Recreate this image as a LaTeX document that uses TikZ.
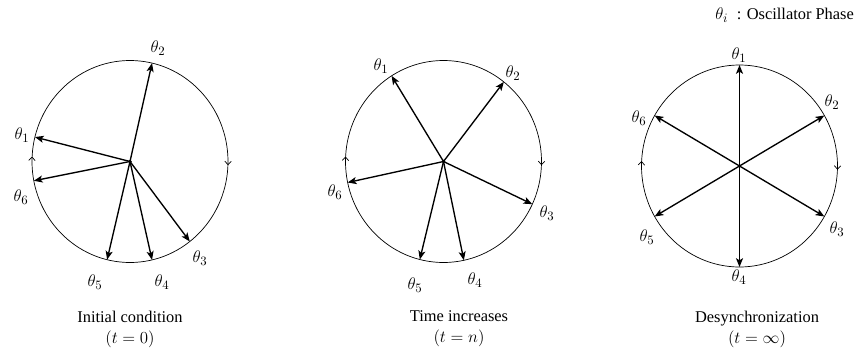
\documentclass[tikz,border=0pt]{standalone}
\usepackage{fontspec}
\setmainfont{Liberation Serif}
\usetikzlibrary{positioning,arrows.meta,calc,decorations.markings}

\begin{document}
\begin{tikzpicture}[
    x=0.03cm,y=0.03cm,
    every node/.style={font=\fontsize{14}{18}\selectfont,align=center},
    phaselabel/.style={font=\fontsize{15}{18}\selectfont},
    phase/.style={line width=1.15pt,-{Stealth[length=7.5pt,width=6pt,inset=1.8pt]}},
    orbit/.style={line width=0.6pt,postaction={decorate},decoration={markings,
      mark=at position 0.006 with {\arrow{Straight Barb[length=3pt,width=5.5pt]}},
      mark=at position 0.508 with {\arrow{Straight Barb[length=3pt,width=5.5pt]}}}},
    hub/.style={circle,fill,inner sep=0pt,minimum size=3pt}
  ]
  \useasboundingbox (0,0) rectangle (858,351);

  % initial condition
  \node[hub] (h1) at (130,189.5) {};
  \draw[orbit] ($(h1)+(0:98 and 101)$) arc[start angle=0,end angle=-360,x radius=98,y radius=101];
  \foreach \i/\a/\lx/\ly in {1/166/22/216,2/77/158/303,3/307.6/200/93,4/283/162/69,5/256.5/95/69,6/191/21/154}{
    \coordinate (p1-\i) at ($(h1)+(\a:98 and 101)$);
    \draw[phase] (h1.center) -- (p1-\i);
    \node[phaselabel] (l1-\i) at (\lx,\ly) {$\theta_{\i}$};
  }
  \node (cap1) at (130,22) {Initial condition\\$(t=0)$};

  % time increases
  \node[hub] (h2) at (443.5,189.5) {};
  \draw[orbit] ($(h2)+(0:98 and 101)$) arc[start angle=0,end angle=-360,x radius=98,y radius=101];
  \foreach \i/\a/\lx/\ly in {1/122/381/285,2/52/513/278,3/335/547/138,4/282/475/71,5/256/415/66,6/192/335/159}{
    \coordinate (p2-\i) at ($(h2)+(\a:98 and 101)$);
    \draw[phase] (h2.center) -- (p2-\i);
    \node[phaselabel] (l2-\i) at (\lx,\ly) {$\theta_{\i}$};
  }
  \node (cap2) at (459,22) {Time increases\\$(t=n)$};

  % desynchronization
  \node[hub] (h3) at (739.5,185) {};
  \draw[orbit] ($(h3)+(0:98 and 101)$) arc[start angle=0,end angle=-360,x radius=98,y radius=101];
  \foreach \i/\a/\lx/\ly in {1/90/739/296,2/30/832/249,3/330/837/122,4/270/739/74,5/210/647/114,6/150/639/233}{
    \coordinate (p3-\i) at ($(h3)+(\a:98 and 101)$);
    \draw[phase] (h3.center) -- (p3-\i);
    \node[phaselabel] (l3-\i) at (\lx,\ly) {$\theta_{\i}$};
  }
  \node (cap3) at (757,22) {Desynchronization\\$(t=\infty)$};

  \node[anchor=east] (key) at (858,336) {\fontsize{15}{18}\selectfont$\theta_i$\ \ \fontsize{14}{18}\selectfont: Oscillator Phase};
\end{tikzpicture}
\end{document}
